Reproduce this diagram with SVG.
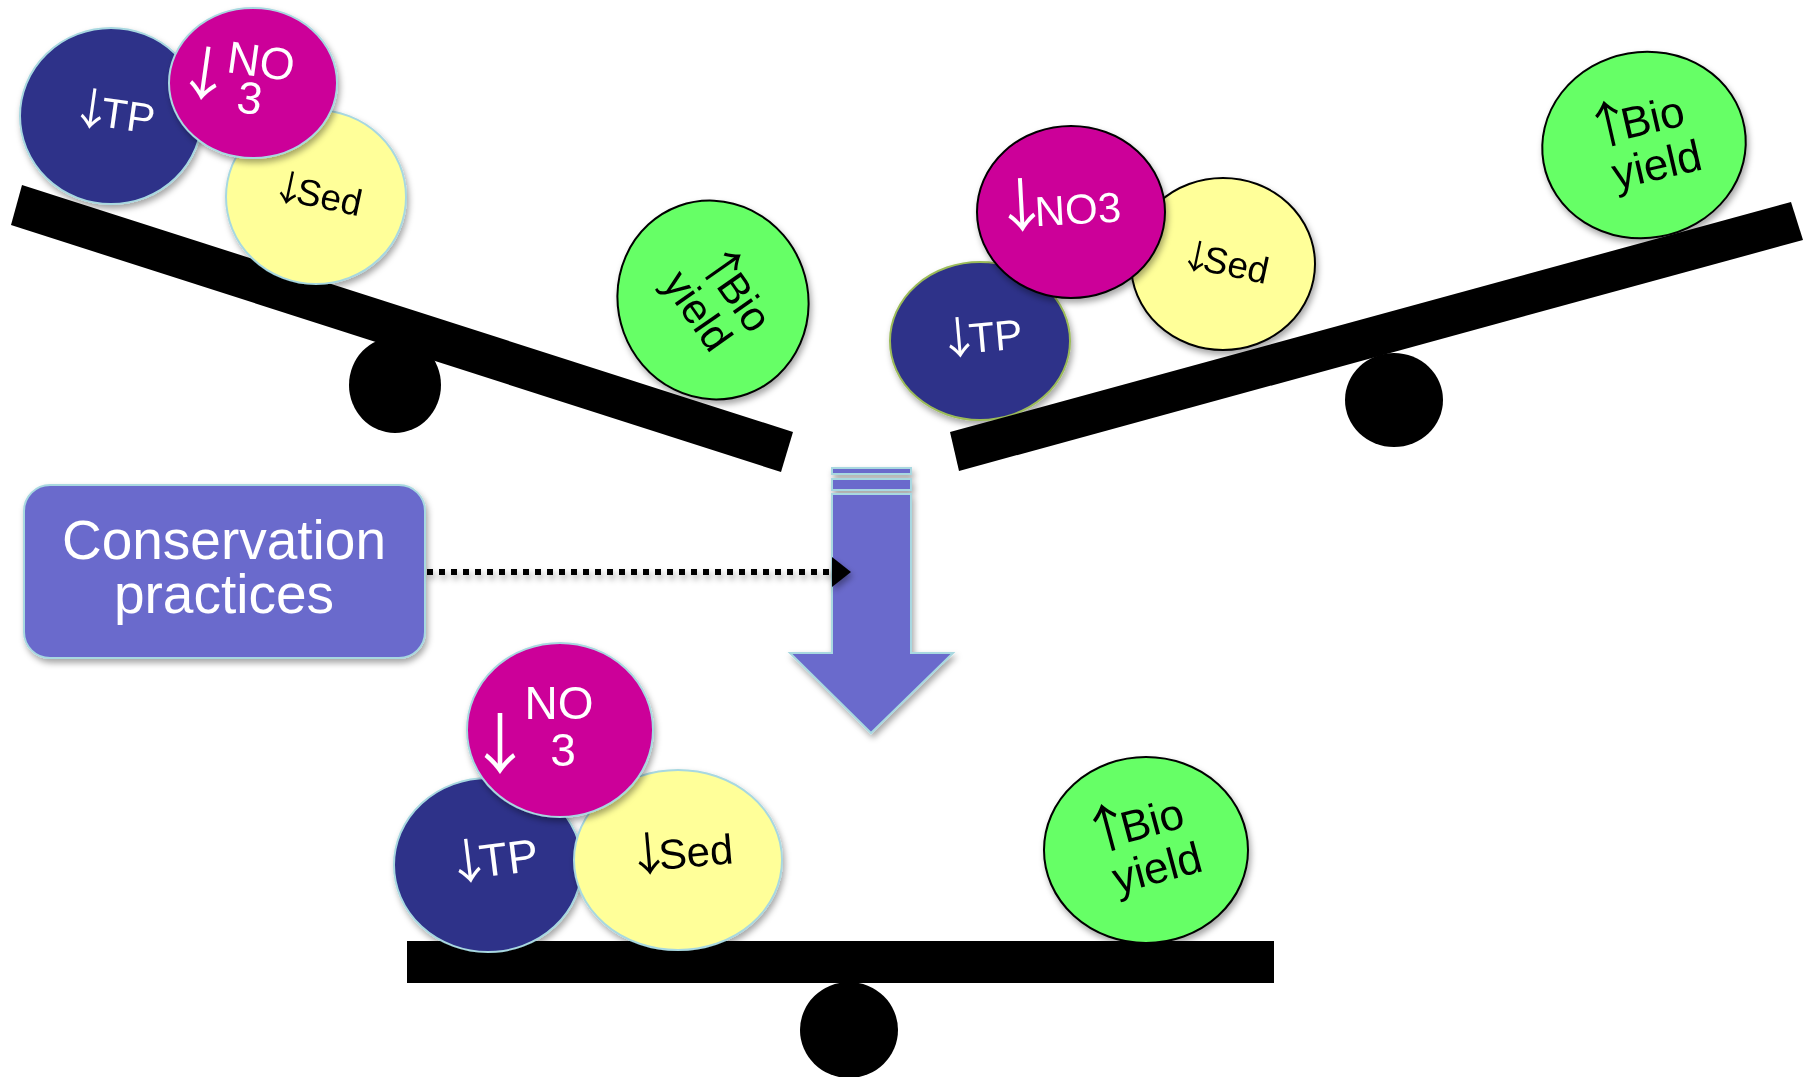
<svg xmlns="http://www.w3.org/2000/svg" width="1810" height="1077" viewBox="0 0 1810 1077">
<defs>
<filter id="sh" x="-20%" y="-20%" width="150%" height="150%">
<feDropShadow dx="2" dy="4" stdDeviation="3" flood-color="#000" flood-opacity="0.35"/>
</filter>
</defs>
<style>
text{font-family:"Liberation Sans",Arial,sans-serif}
.ar{font-family:"Noto Sans CJK SC","Liberation Sans",sans-serif}
.tp{fill:#2E3089}
.no{fill:#CC0099}
.sed{fill:#FFFF99}
.bio{fill:#66FF66;stroke:#000;stroke-width:2}
.lb{stroke:#A8D8E0;stroke-width:2}
.dk{stroke:#000;stroke-width:2}
.gr{stroke:#9BBB59;stroke-width:2}
.w{fill:#fff}
.k{fill:#000}
.beam{fill:#000}
.blue{fill:#6B6BCC;stroke:#A8D8E0;stroke-width:2}
</style>

<!-- Left (tilted) balance -->
<g id="left-fulcrum"><ellipse cx="395" cy="385" rx="46" ry="48" fill="#000"/></g>
<g id="left-beam"><polygon class="beam" points="22,185 793,432 781,472 11,225"/></g>
<g id="left-tp" filter="url(#sh)">
<ellipse class="tp lb" cx="111" cy="116" rx="91" ry="88"/>
<text class="w" x="112" y="128" font-size="42" text-anchor="middle" transform="rotate(8 112 116)"><tspan class="ar" font-size="44">↓</tspan><tspan dx="-12">TP</tspan></text>
</g>
<g id="left-sed" filter="url(#sh)">
<ellipse class="sed lb" cx="316" cy="197" rx="90" ry="87"/>
<text class="k" x="316" y="207" font-size="37" text-anchor="middle" transform="rotate(12 316 197)"><tspan class="ar" font-size="36">↓</tspan><tspan dx="-10">Sed</tspan></text>
</g>
<g id="left-no3" filter="url(#sh)">
<ellipse class="no lb" cx="253" cy="83" rx="84" ry="75"/>
<g transform="rotate(8 253 83)">
<text class="w ar" x="204" y="102" font-size="58" text-anchor="middle">↓</text>
<text class="w" x="258" y="76" font-size="45" text-anchor="middle">NO</text>
<text class="w" x="252" y="114" font-size="45" text-anchor="middle">3</text>
</g>
</g>
<g id="left-bio" filter="url(#sh)">
<ellipse class="bio" cx="713" cy="300" rx="95" ry="100" transform="rotate(-20 713 300)"/>
<g transform="rotate(55 713 300)">
<text class="k" x="716" y="290" font-size="42" text-anchor="middle"><tspan class="ar" font-size="46">↑</tspan><tspan dx="-12">Bio</tspan></text>
<text class="k" x="713" y="333" font-size="42" text-anchor="middle">yield</text>
</g>
</g>

<!-- Right (tilted) balance -->
<g id="right-fulcrum"><ellipse cx="1394" cy="400" rx="49" ry="47" fill="#000"/></g>
<g id="right-tp" filter="url(#sh)">
<ellipse class="tp gr" cx="980" cy="341" rx="90" ry="79"/>
<text class="w" x="980" y="352" font-size="42" text-anchor="middle" transform="rotate(-5 980 341)"><tspan class="ar" font-size="44">↓</tspan><tspan dx="-12">TP</tspan></text>
</g>
<g id="right-sed" filter="url(#sh)">
<ellipse class="sed dk" cx="1223" cy="264" rx="92" ry="86"/>
<text class="k" x="1224" y="275" font-size="37" text-anchor="middle" transform="rotate(12 1224 264)"><tspan class="ar" font-size="34">↓</tspan><tspan dx="-10">Sed</tspan></text>
</g>
<g id="right-no3" filter="url(#sh)">
<ellipse class="no dk" cx="1071" cy="212" rx="94" ry="86"/>
<text class="w" x="1057" y="225" font-size="42" text-anchor="middle" transform="rotate(-3 1057 212)"><tspan class="ar" font-size="58">↓</tspan><tspan dx="-16">NO3</tspan></text>
</g>
<g id="right-bio" filter="url(#sh)">
<ellipse class="bio" cx="1644" cy="145" rx="102" ry="93" transform="rotate(-10 1644 145)"/>
<g transform="rotate(-13 1644 145)">
<text class="k" x="1640" y="135" font-size="44" text-anchor="middle"><tspan class="ar" font-size="50">↑</tspan><tspan dx="-13">Bio</tspan></text>
<text class="k" x="1652" y="182" font-size="44" text-anchor="middle">yield</text>
</g>
</g>
<g id="right-beam"><polygon class="beam" points="950,432 1791,202 1803,240 959,471"/></g>

<!-- Conservation practices box -->
<g id="conservation" filter="url(#sh)">
<rect class="blue" x="24" y="485" width="401" height="173" rx="26"/>
<text class="w" x="224" y="559" font-size="55" text-anchor="middle">Conservation</text>
<text class="w" x="224" y="613" font-size="55" text-anchor="middle">practices</text>
</g>

<!-- Big down arrow -->
<g id="down-arrow" filter="url(#sh)">
<rect class="blue" x="832" y="468" width="79" height="6"/>
<rect class="blue" x="832" y="479" width="79" height="11"/>
<polygon class="blue" points="832,494 911,494 911,653 953,653 871,733 790,653 832,653"/>
</g>

<!-- Connectors -->
<g id="connectors" filter="url(#sh)">
<line x1="427" y1="572" x2="832" y2="572" stroke="#000" stroke-width="6" stroke-dasharray="6 6"/>
<polygon points="832,557 851,572 832,587" fill="#000"/>
</g>

<!-- Bottom (balanced) -->
<g id="bottom-fulcrum"><ellipse cx="849" cy="1030" rx="49" ry="48" fill="#000"/></g>
<g id="bottom-beam"><rect class="beam" x="407" y="941" width="867" height="42"/></g>
<g id="bottom-tp" filter="url(#sh)">
<ellipse class="tp lb" cx="488" cy="865" rx="94" ry="87"/>
<text class="w" x="492" y="876" font-size="46" text-anchor="middle" transform="rotate(-7 492 865)"><tspan class="ar" font-size="48">↓</tspan><tspan dx="-13">TP</tspan></text>
</g>
<g id="bottom-sed" filter="url(#sh)">
<ellipse class="sed lb" cx="678" cy="860" rx="104" ry="90"/>
<text class="k" x="680" y="868" font-size="42" text-anchor="middle" transform="rotate(-5 680 860)"><tspan class="ar" font-size="46">↓</tspan><tspan dx="-13">Sed</tspan></text>
</g>
<g id="bottom-no3" filter="url(#sh)">
<ellipse class="no lb" cx="560" cy="730" rx="93" ry="87"/>
<text class="w ar" x="500" y="768" font-size="66" text-anchor="middle">↓</text>
<text class="w" x="559" y="719" font-size="46" text-anchor="middle">NO</text>
<text class="w" x="563" y="766" font-size="46" text-anchor="middle">3</text>
</g>
<g id="bottom-bio" filter="url(#sh)">
<ellipse class="bio" cx="1146" cy="850" rx="102" ry="93"/>
<g transform="rotate(-15 1146 850)">
<text class="k" x="1140" y="838" font-size="44" text-anchor="middle"><tspan class="ar" font-size="52">↑</tspan><tspan dx="-13">Bio</tspan></text>
<text class="k" x="1152" y="885" font-size="44" text-anchor="middle">yield</text>
</g>
</g>
</svg>
